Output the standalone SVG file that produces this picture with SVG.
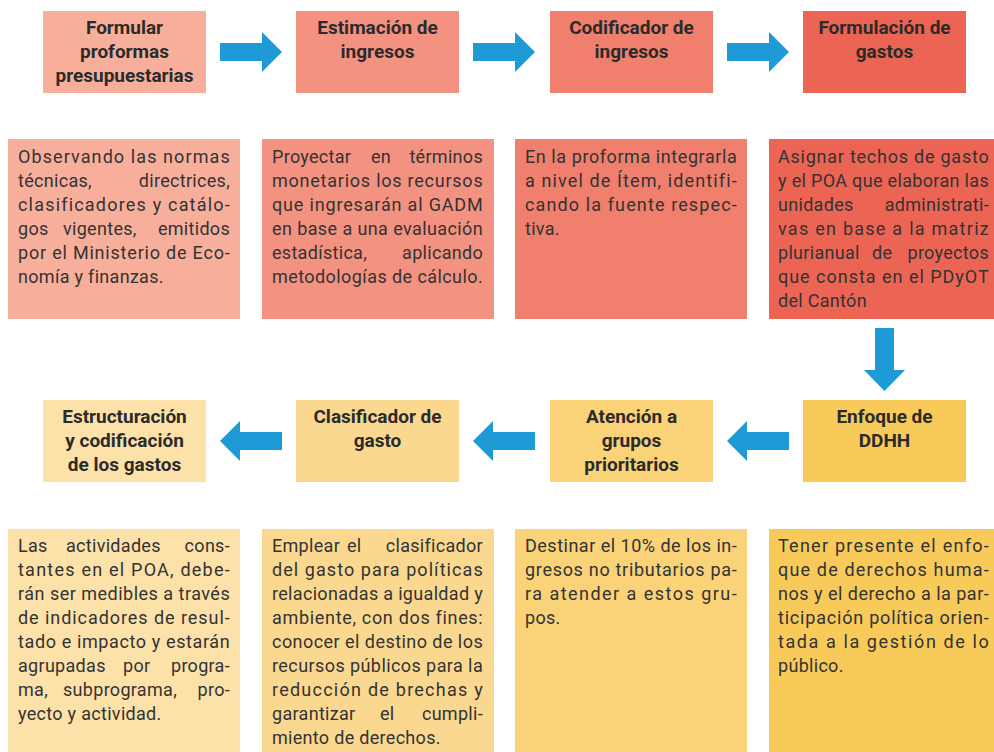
<svg xmlns="http://www.w3.org/2000/svg" width="994" height="752" viewBox="0 0 994 752">
<style>
.h{font-family:Roboto,"Liberation Sans",sans-serif;font-weight:700;font-size:19px;fill:#2b2b2b;text-anchor:middle}
.t{font-family:Roboto,"Liberation Sans",sans-serif;font-size:18px;letter-spacing:0.3px;fill:#333}
.e{text-anchor:end}
.arr{fill:#1E9AD6}
.c1{fill:#F7AF9C}.c2{fill:#F39281}.c3{fill:#F07F6D}.c4{fill:#EC6453}
.y1{fill:#FCE1A9}.y2{fill:#FBD88F}.y3{fill:#FAD278}.y4{fill:#F8CA5A}
</style>
<rect width="994" height="752" fill="#fff"/>

<g id="connectors">
<polygon class="arr" points="220,43 262,43 262,32 282,52 262,72 262,61 220,61"/>
<polygon class="arr" points="473,43 515,43 515,32 535,52 515,72 515,61 473,61"/>
<polygon class="arr" points="727,43 769,43 769,32 789,52 769,72 769,61 727,61"/>
<polygon class="arr" points="875,328 894,328 894,370 905,370 884.5,391 864,370 875,370"/>
<polygon class="arr" points="282,432 240,432 240,421 220,441 240,461 240,450 282,450"/>
<polygon class="arr" points="535,432 493,432 493,421 473,441 493,461 493,450 535,450"/>
<polygon class="arr" points="789,432 747,432 747,421 727,441 747,461 747,450 789,450"/>
</g>

<g id="n1">
<rect class="c1" x="43" y="11" width="163" height="82"/>
<text class="h" x="124.5" y="34">Formular</text>
<text class="h" x="124.5" y="58">proformas</text>
<text class="h" x="124.5" y="82">presupuestarias</text>
</g>
<g id="n2">
<rect class="c2" x="296" y="11" width="163" height="82"/>
<text class="h" x="377.5" y="34">Estimación de</text>
<text class="h" x="377.5" y="58">ingresos</text>
</g>
<g id="n3">
<rect class="c3" x="550" y="11" width="163" height="82"/>
<text class="h" x="631.5" y="34">Codificador de</text>
<text class="h" x="631.5" y="58">ingresos</text>
</g>
<g id="n4">
<rect class="c4" x="803" y="11" width="163" height="82"/>
<text class="h" x="884.5" y="34">Formulación de</text>
<text class="h" x="884.5" y="58">gastos</text>
</g>

<g id="d1">
<rect class="c1" x="8" y="139" width="232" height="180"/>
<text class="t" x="18" y="163" textLength="212" lengthAdjust="spacing">Observando las normas</text>
<text class="t" x="18" y="187">técnicas,</text><text class="t e" x="230" y="187">directrices,</text>
<text class="t" x="18" y="211" textLength="212" lengthAdjust="spacing">clasificadores y catálo-</text>
<text class="t" x="18" y="235">gos</text><text class="t" x="63" y="235">vigentes,</text><text class="t e" x="230" y="235">emitidos</text>
<text class="t" x="18" y="259" textLength="212" lengthAdjust="spacing">por el Ministerio de Eco-</text>
<text class="t" x="18" y="283">nomía y finanzas.</text>
</g>
<g id="d2">
<rect class="c2" x="262" y="139" width="232" height="180"/>
<text class="t" x="272" y="163">Proyectar</text><text class="t" x="371" y="163">en</text><text class="t e" x="483" y="163">términos</text>
<text class="t" x="272" y="187" textLength="211" lengthAdjust="spacing">monetarios los recursos</text>
<text class="t" x="272" y="211" textLength="211" lengthAdjust="spacing">que ingresarán al GADM</text>
<text class="t" x="272" y="235" textLength="211" lengthAdjust="spacing">en base a una evaluación</text>
<text class="t" x="272" y="259">estadística,</text><text class="t e" x="483" y="259">aplicando</text>
<text class="t" x="272" y="283" textLength="211" lengthAdjust="spacing">metodologías de cálculo.</text>
</g>
<g id="d3">
<rect class="c3" x="515" y="139" width="232" height="180"/>
<text class="t" x="525" y="163" textLength="212" lengthAdjust="spacing">En la proforma integrarla</text>
<text class="t" x="525" y="187" textLength="212" lengthAdjust="spacing">a nivel de Ítem, identifi-</text>
<text class="t" x="525" y="211" textLength="212" lengthAdjust="spacing">cando la fuente respec-</text>
<text class="t" x="525" y="235">tiva.</text>
</g>
<g id="d4">
<rect class="c4" x="769" y="139" width="225" height="180"/>
<text class="t" x="778" y="163" textLength="211" lengthAdjust="spacing">Asignar techos de gasto</text>
<text class="t" x="778" y="187" textLength="211" lengthAdjust="spacing">y el POA que elaboran las</text>
<text class="t" x="778" y="211">unidades</text><text class="t e" x="989" y="211">administrati-</text>
<text class="t" x="778" y="235" textLength="211" lengthAdjust="spacing">vas en base a la matriz</text>
<text class="t" x="778" y="259">plurianual</text><text class="t" x="872" y="259">de</text><text class="t e" x="989" y="259">proyectos</text>
<text class="t" x="778" y="283" textLength="211" lengthAdjust="spacing">que consta en el PDyOT</text>
<text class="t" x="778" y="307">del Cantón</text>
</g>

<g id="n5">
<rect class="y4" x="803" y="400" width="163" height="82"/>
<text class="h" x="884.5" y="423">Enfoque de</text>
<text class="h" x="884.5" y="447">DDHH</text>
</g>
<g id="n6">
<rect class="y3" x="550" y="400" width="163" height="82"/>
<text class="h" x="631.5" y="423">Atención a</text>
<text class="h" x="631.5" y="447">grupos</text>
<text class="h" x="631.5" y="471">prioritarios</text>
</g>
<g id="n7">
<rect class="y2" x="296" y="400" width="163" height="82"/>
<text class="h" x="377.5" y="423">Clasificador de</text>
<text class="h" x="377.5" y="447">gasto</text>
</g>
<g id="n8">
<rect class="y1" x="43" y="400" width="163" height="82"/>
<text class="h" x="124.5" y="423">Estructuración</text>
<text class="h" x="124.5" y="447">y codificación</text>
<text class="h" x="124.5" y="471">de los gastos</text>
</g>

<g id="d8">
<rect class="y1" x="8" y="529" width="232" height="223"/>
<text class="t" x="18" y="552">Las</text><text class="t" x="66" y="552">actividades</text><text class="t e" x="230" y="552">cons-</text>
<text class="t" x="18" y="576" textLength="212" lengthAdjust="spacing">tantes en el POA, debe-</text>
<text class="t" x="18" y="600" textLength="212" lengthAdjust="spacing">rán ser medibles a través</text>
<text class="t" x="18" y="624" textLength="212" lengthAdjust="spacing">de indicadores de resul-</text>
<text class="t" x="18" y="648" textLength="212" lengthAdjust="spacing">tado e impacto y estarán</text>
<text class="t" x="18" y="672">agrupadas</text><text class="t" x="123" y="672">por</text><text class="t e" x="230" y="672">progra-</text>
<text class="t" x="18" y="696">ma,</text><text class="t" x="63" y="696">subprograma,</text><text class="t e" x="230" y="696">pro-</text>
<text class="t" x="18" y="720">yecto y actividad.</text>
</g>
<g id="d7">
<rect class="y2" x="262" y="529" width="232" height="223"/>
<text class="t" x="272" y="552">Emplear</text><text class="t" x="347" y="552">el</text><text class="t e" x="483" y="552">clasificador</text>
<text class="t" x="272" y="576" textLength="211" lengthAdjust="spacing">del gasto para políticas</text>
<text class="t" x="272" y="600" textLength="211" lengthAdjust="spacing">relacionadas a igualdad y</text>
<text class="t" x="272" y="624" textLength="211" lengthAdjust="spacing">ambiente, con dos fines:</text>
<text class="t" x="272" y="648" textLength="211" lengthAdjust="spacing">conocer el destino de los</text>
<text class="t" x="272" y="672" textLength="211" lengthAdjust="spacing">recursos públicos para la</text>
<text class="t" x="272" y="696" textLength="211" lengthAdjust="spacing">reducción de brechas y</text>
<text class="t" x="272" y="720">garantizar</text><text class="t" x="380" y="720">el</text><text class="t e" x="483" y="720">cumpli-</text>
<text class="t" x="272" y="744">miento de derechos.</text>
</g>
<g id="d6">
<rect class="y3" x="515" y="529" width="232" height="223"/>
<text class="t" x="525" y="552" textLength="212" lengthAdjust="spacing">Destinar el 10% de los in-</text>
<text class="t" x="525" y="576" textLength="212" lengthAdjust="spacing">gresos no tributarios pa-</text>
<text class="t" x="525" y="600" textLength="212" lengthAdjust="spacing">ra atender a estos gru-</text>
<text class="t" x="525" y="624">pos.</text>
</g>
<g id="d5">
<rect class="y4" x="769" y="529" width="225" height="223"/>
<text class="t" x="778" y="552" textLength="211" lengthAdjust="spacing">Tener presente el enfo-</text>
<text class="t" x="778" y="576" textLength="211" lengthAdjust="spacing">que de derechos huma-</text>
<text class="t" x="778" y="600" textLength="211" lengthAdjust="spacing">nos y el derecho a la par-</text>
<text class="t" x="778" y="624" textLength="211" lengthAdjust="spacing">ticipación política orien-</text>
<text class="t" x="778" y="648" textLength="211" lengthAdjust="spacing">tada a la gestión de lo</text>
<text class="t" x="778" y="672">público.</text>
</g>
</svg>
